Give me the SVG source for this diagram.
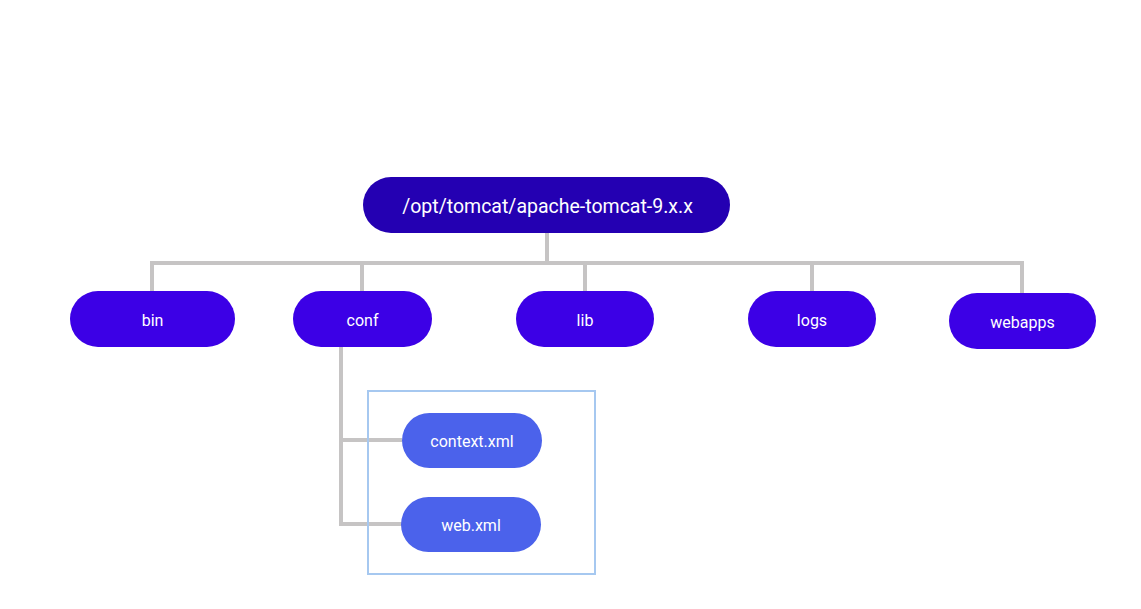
<svg xmlns="http://www.w3.org/2000/svg" width="1141" height="609" viewBox="0 0 1141 609">
<style>
.lbl{font-family:Roboto,"Liberation Sans",sans-serif;fill:#ffffff;text-anchor:middle;dominant-baseline:central}
.dir{fill:#3c00e6}
.file{fill:#4b62eb}
.con{stroke:#c6c4c4;stroke-width:4;fill:none}
</style>
<rect width="1141" height="609" fill="#ffffff"/>
<g id="connectors">
<path class="con" d="M547 233V263M152 291V263H1022V293M362 263V291M585 263V291M812 263V291"/>
<path class="con" d="M341 347V524H402M341 440H402"/>
</g>
<rect id="group-box" x="368" y="391" width="227" height="183" fill="none" stroke="#a6c8f0" stroke-width="2"/>
<g id="root"><rect x="363" y="177" width="367" height="56" rx="28" fill="#2400b2"/><text class="lbl" x="547.5" y="206" font-size="19.5">/opt/tomcat/apache-tomcat-9.x.x</text></g>
<g id="bin"><rect class="dir" x="70" y="291" width="165" height="56" rx="28"/><text class="lbl" x="152.5" y="320" font-size="16">bin</text></g>
<g id="conf"><rect class="dir" x="293" y="291" width="139" height="56" rx="28"/><text class="lbl" x="362.5" y="320" font-size="16">conf</text></g>
<g id="lib"><rect class="dir" x="516" y="291" width="138" height="56" rx="28"/><text class="lbl" x="585" y="320" font-size="16">lib</text></g>
<g id="logs"><rect class="dir" x="748" y="291" width="128" height="56" rx="28"/><text class="lbl" x="812" y="320" font-size="16">logs</text></g>
<g id="webapps"><rect class="dir" x="949" y="293" width="147" height="56" rx="28"/><text class="lbl" x="1022.5" y="322" font-size="16">webapps</text></g>
<g id="context-xml"><rect class="file" x="402" y="413" width="140" height="55" rx="27.5"/><text class="lbl" x="472" y="441" font-size="16">context.xml</text></g>
<g id="web-xml"><rect class="file" x="401" y="497" width="140" height="55" rx="27.5"/><text class="lbl" x="471" y="525" font-size="16">web.xml</text></g>
</svg>
